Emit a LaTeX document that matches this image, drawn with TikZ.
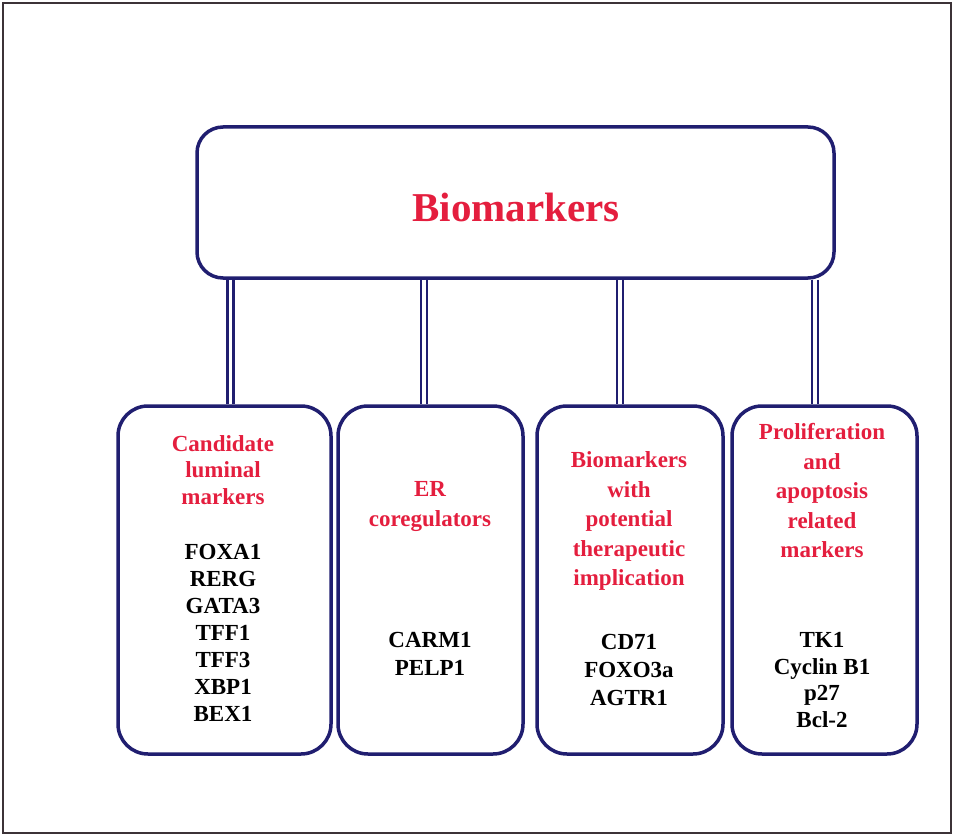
\documentclass[tikz,border=0pt]{standalone}
\usepackage{fontspec}
\setmainfont{Liberation Serif}
\definecolor{navy}{RGB}{32,30,112}
\definecolor{redtxt}{RGB}{228,30,62}
\definecolor{frame}{RGB}{60,50,55}
\begin{document}
\begin{tikzpicture}[x=1pt,y=-1pt,
  topbox/.style={draw=navy,line width=3.5pt,rounded corners=26pt,minimum width=637pt,minimum height=151pt,inner sep=0pt},
  catbox/.style={draw=navy,line width=3.5pt,rounded corners=30pt,minimum height=348pt,inner sep=0pt},
  conn/.style={draw=navy,double=white,line width=2.5pt,double distance=3.5pt},
  redt/.style={text=redtxt,font=\fontsize{23pt}{28pt}\selectfont\bfseries,align=center,inner sep=0pt},
  blkt/.style={text=black,font=\fontsize{23pt}{27pt}\selectfont\bfseries,align=center,inner sep=0pt}]
\useasboundingbox (0,0) rectangle (953,840);
\draw[frame,line width=2pt] (3,3) rectangle (951,833);
\node[topbox] (top) at (515.5,202.5) {};
\node[text=redtxt,font=\fontsize{41pt}{48pt}\selectfont\bfseries] (title) at (516,207) {Biomarkers};
\node[catbox,minimum width=213pt] (b1) at (224.5,580) {};
\node[catbox,minimum width=185pt] (b2) at (430.5,580) {};
\node[catbox,minimum width=186pt] (b3) at (630,580) {};
\node[catbox,minimum width=185pt] (b4) at (824.5,580) {};
\coordinate (k1) at (230.5,0);
\coordinate (k2) at (424,0);
\coordinate (k3) at (620,0);
\coordinate (k4) at (815,0);
\draw[conn] (top.south -| k1) -- (b1.north -| k1);
\draw[conn] (top.south -| k2) -- (b2.north -| k2);
\draw[conn] (top.south -| k3) -- (b3.north -| k3);
\draw[conn] (top.south -| k4) -- (b4.north -| k4);
\node[redt,font=\fontsize{23pt}{26.5pt}\selectfont\bfseries] (r1) at (223,470) {Candidate\\luminal\\markers};
\node[blkt] (l1) at (223,633) {FOXA1\\RERG\\GATA3\\TFF1\\TFF3\\XBP1\\BEX1};
\node[redt,font=\fontsize{23pt}{30pt}\selectfont\bfseries] (r2) at (430,507) {ER\\coregulators};
\node[blkt,font=\fontsize{23pt}{28pt}\selectfont\bfseries] (l2) at (430,654) {CARM1\\PELP1};
\node[redt,font=\fontsize{23pt}{29.5pt}\selectfont\bfseries] (r3) at (629,521) {Biomarkers\\with\\potential\\therapeutic\\implication};
\node[blkt,font=\fontsize{23pt}{28pt}\selectfont\bfseries] (l3) at (629,670) {CD71\\FOXO3a\\AGTR1};
\node[redt,font=\fontsize{23pt}{29.5pt}\selectfont\bfseries] (r4) at (822,491) {Proliferation\\and\\apoptosis\\related\\markers};
\node[blkt,font=\fontsize{23pt}{26.7pt}\selectfont\bfseries] (l4) at (822,680) {TK1\\Cyclin B1\\p27\\Bcl-2};
\end{tikzpicture}
\end{document}
